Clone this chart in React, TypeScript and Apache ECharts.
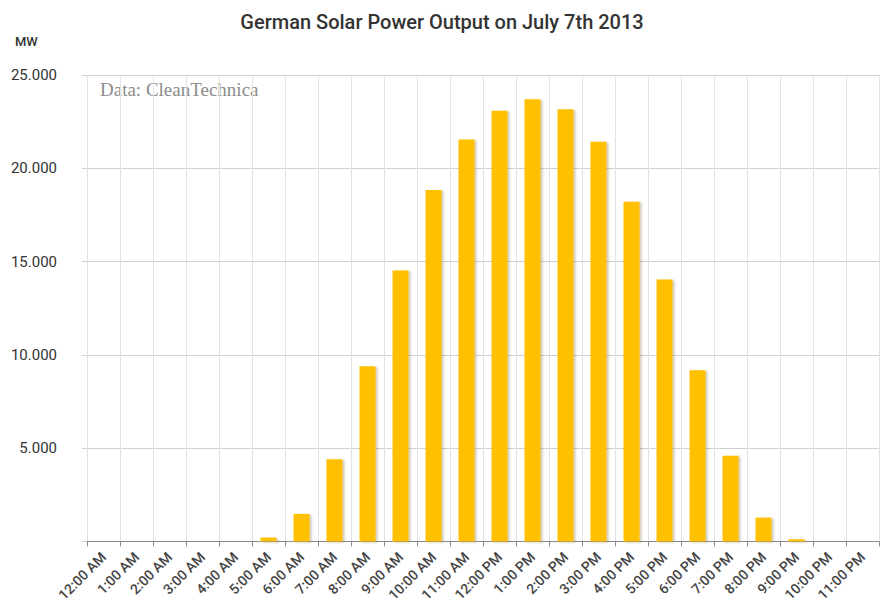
import React, { useEffect, useRef } from "react";
import * as echarts from "echarts";

const hours: string[] = [
  "12:00 AM", "1:00 AM", "2:00 AM", "3:00 AM", "4:00 AM", "5:00 AM",
  "6:00 AM", "7:00 AM", "8:00 AM", "9:00 AM", "10:00 AM", "11:00 AM",
  "12:00 PM", "1:00 PM", "2:00 PM", "3:00 PM", "4:00 PM", "5:00 PM",
  "6:00 PM", "7:00 PM", "8:00 PM", "9:00 PM", "10:00 PM", "11:00 PM",
];

const outputMW: number[] = [
  0, 0, 0, 0, 0, 210,
  1480, 4410, 9390, 14520, 18840, 21540,
  23080, 23700, 23170, 21420, 18210, 14040,
  9180, 4600, 1280, 120, 0, 0,
];

const titleText = "German Solar Power Output on July 7th 2013";
const unitText = "MW";
const sourceText = "Data: CleanTechnica";

const fmt = (v: number) => {
  if (v === 0) return "";
  const s = String(Math.round(v));
  return s.replace(/\B(?=(\d{3})+(?!\d))/g, ".");
};

export default function App() {
  const ref = useRef<HTMLDivElement>(null);
  useEffect(() => {
    if (!ref.current) return;
    const chart = echarts.init(ref.current, undefined, { renderer: "svg" });
    chart.setOption({
      animation: false,
      backgroundColor: "#ffffff",
      textStyle: { fontFamily: "Roboto" },
      title: {
        text: titleText,
        left: "center",
        top: 7,
        textStyle: { fontFamily: "Roboto", fontSize: 20, fontWeight: 500, color: "#333333" },
      },
      graphic: [
        {
          type: "text",
          left: 15,
          top: 35,
          style: { text: unitText, fontFamily: "Roboto", fontSize: 13, fontWeight: 500, fill: "#333333" },
        },
        {
          type: "text",
          left: 100,
          top: 80,
          style: { text: sourceText, fontFamily: "Liberation Serif", fontSize: 19, fill: "#8c8c8c" },
        },
      ],
      grid: { left: 87, right: 5, top: 75, bottom: 65.5, containLabel: false },
      xAxis: {
        type: "category",
        data: hours,
        boundaryGap: true,
        axisLine: { show: true, lineStyle: { color: "#8a8a8a", width: 1 } },
        axisTick: { show: true, length: 5, lineStyle: { color: "#8a8a8a" } },
        splitLine: { show: true, lineStyle: { color: "#e2e2e2", width: 1 } },
        axisLabel: {
          rotate: 45,
          interval: 0,
          margin: 13,
          fontFamily: "Roboto",
          fontSize: 14,
          fontWeight: 500,
          color: "#444444",
        },
      },
      yAxis: {
        type: "value",
        min: 0,
        max: 25000,
        interval: 5000,
        axisLine: { show: false },
        axisTick: { show: true, length: 5, lineStyle: { color: "#cfcfcf" } },
        splitLine: { show: true, lineStyle: { color: "#cfcfcf", width: 1 } },
        axisLabel: {
          margin: 30,
          fontFamily: "Roboto",
          fontSize: 15,
          color: "#333333",
          formatter: fmt,
        },
      },
      series: [
        {
          type: "bar",
          data: outputMW,
          barWidth: 16,
          itemStyle: {
            color: "#FFC000",
            shadowColor: "rgba(120,100,40,0.35)",
            shadowBlur: 2,
            shadowOffsetX: 2,
            shadowOffsetY: 1,
          },
        },
      ],
    });
    return () => chart.dispose();
  }, []);
  return <div ref={ref} style={{ width: 884, height: 607, position: "absolute", left: 0, top: 0 }} />;
}
